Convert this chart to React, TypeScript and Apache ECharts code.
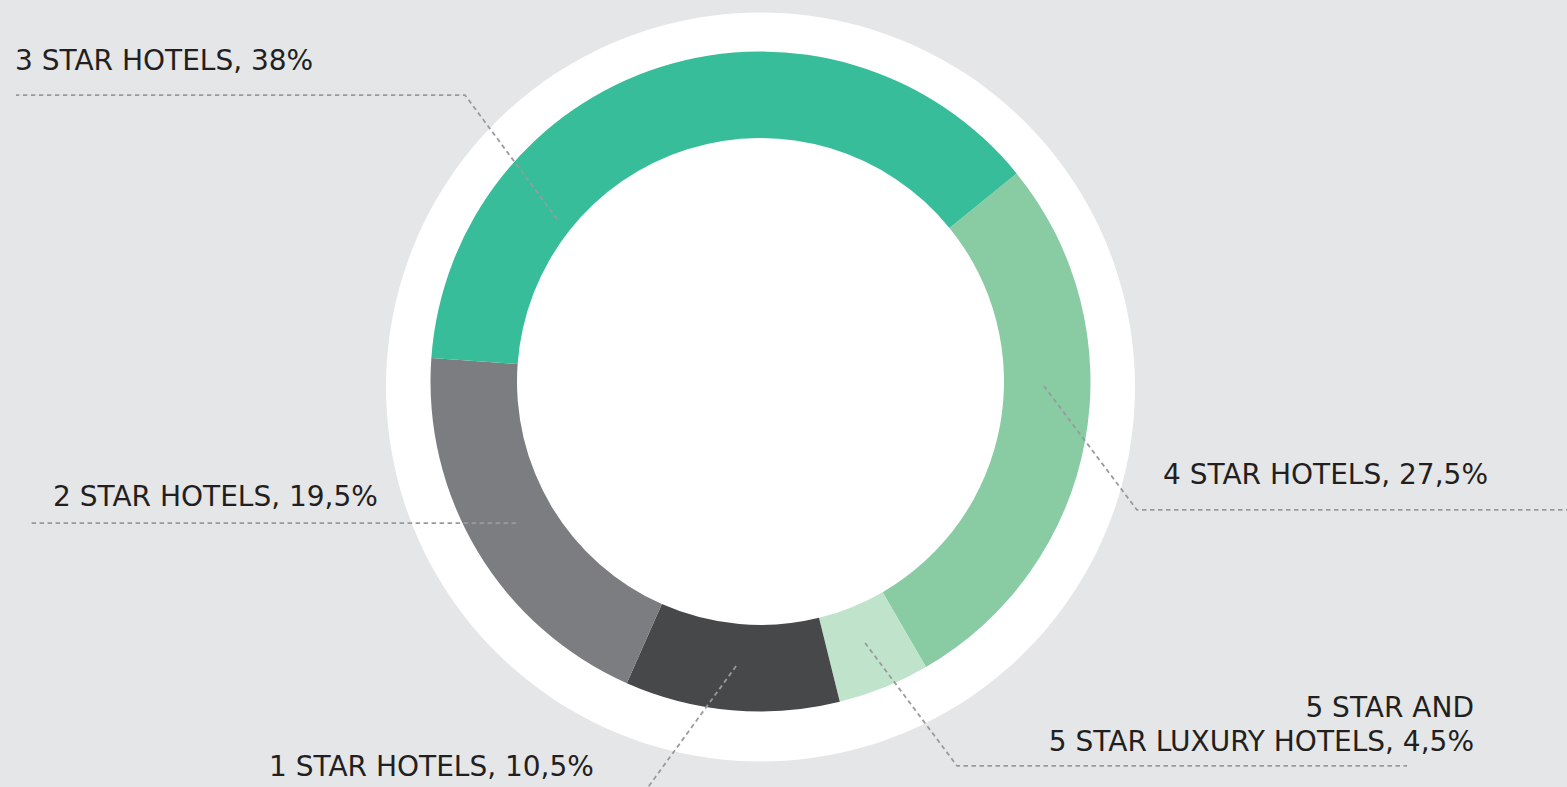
import React, { useEffect, useRef } from 'react';
import * as echarts from 'echarts';

// ---- data ----
const categories = [
  '4 STAR HOTELS',
  '5 STAR AND\n5 STAR LUXURY HOTELS',
  '1 STAR HOTELS',
  '2 STAR HOTELS',
  '3 STAR HOTELS',
];
const shares = [27.5, 4.5, 10.5, 19.5, 38];
const colors = ['#89cca4', '#c0e3cb', '#47484a', '#7c7d80', '#38bd9a'];

// ---- layout ----
const W = 1567;
const H = 787;
const CX = 760.5;
const CY = 381.5;
const START_FROM_TOP = 50.9; // degrees clockwise from 12 o'clock

const LABEL_LAYOUT = [
  { shift: -9.5, r: 283.5, elbow: [93, 124], endX: 1590, tx: 1488, ty: 474, align: 'right' },
  { shift: 0.2, r: 281.6, elbow: [92, 123], endX: 1407, tx: 1474, ty: 724, align: 'right' },
  { shift: -0.1, r: 285.6, elbow: [-93, 128], endX: 300, tx: 269, ty: 766, align: 'left' },
  { shift: 0.9, r: 282.5, elbow: [0, 0], endX: 28, tx: 53, ty: 496, align: 'left' },
  { shift: -33.9, r: 260.4, elbow: [-92, -124], endX: 16, tx: 15, ty: 60, align: 'left' },
];

const total = shares.reduce((a, b) => a + b, 0);
let acc = 0;
const midDeg = shares.map((v) => {
  const m = START_FROM_TOP + ((acc + v / 2) / total) * 360;
  acc += v;
  return m;
});

const fmt = (v: number) => String(v).replace('.', ',');

export default function App() {
  const ref = useRef<HTMLDivElement>(null);

  useEffect(() => {
    if (!ref.current) return;
    const chart = echarts.init(ref.current, undefined, { renderer: 'svg' });
    const ring = {
      type: 'pie',
      silent: true,
      center: [CX, CY],
      radius: [243.5, 330],
      startAngle: 90 - START_FROM_TOP,
      clockwise: true,
      avoidLabelOverlap: false,
      emphasis: { disabled: true },
    };
    chart.setOption({
      animation: false,
      backgroundColor: '#e5e6e8',
      series: [
        {
          type: 'pie',
          z: 1,
          silent: true,
          center: [CX, 387],
          radius: [0, 374.5],
          label: { show: false },
          labelLine: { show: false },
          emphasis: { disabled: true },
          itemStyle: { color: '#ffffff', borderWidth: 0 },
          data: [{ value: 1, name: 'bg' }],
        },
        {
          ...ring,
          z: 2,
          itemStyle: { borderWidth: 0 },
          label: { show: false },
          labelLine: { show: false },
          data: categories.map((name, i) => ({
            name,
            value: shares[i],
            itemStyle: { color: colors[i] },
          })),
        },
        {
          ...ring,
          z: 3,
          itemStyle: { color: 'rgba(0,0,0,0)', borderWidth: 0 },
          label: {
            show: true,
            position: 'outside',
            fontFamily: '"DejaVu Sans", sans-serif',
            fontSize: 28,
            lineHeight: 34,
            color: '#231f20',
            formatter: (p: any) => `${p.name}, ${fmt(p.value)}%`,
          },
          labelLine: {
            show: true,
            smooth: false,
            lineStyle: { color: '#9a9a9e', width: 1.8, type: [4.5, 3.5] },
          },
          labelLayout: (params: any) => {
            const i = params.dataIndex;
            const L = LABEL_LAYOUT[i];
            const a = ((midDeg[i] + L.shift) * Math.PI) / 180;
            const ax = CX + L.r * Math.sin(a);
            const ay = CY - L.r * Math.cos(a);
            const ex = ax + L.elbow[0];
            const ey = ay + L.elbow[1];
            return {
              x: L.tx,
              y: L.ty,
              align: L.align,
              verticalAlign: 'middle',
              labelLinePoints: [
                [ax, ay],
                [ex, ey],
                [L.endX, ey],
              ],
            };
          },
          data: categories.map((name, i) => ({ name, value: shares[i] })),
        },
      ],
    });
    return () => chart.dispose();
  }, []);

  return (
    <div
      ref={ref}
      style={{ position: 'absolute', left: 0, top: 0, width: W, height: H }}
    />
  );
}
